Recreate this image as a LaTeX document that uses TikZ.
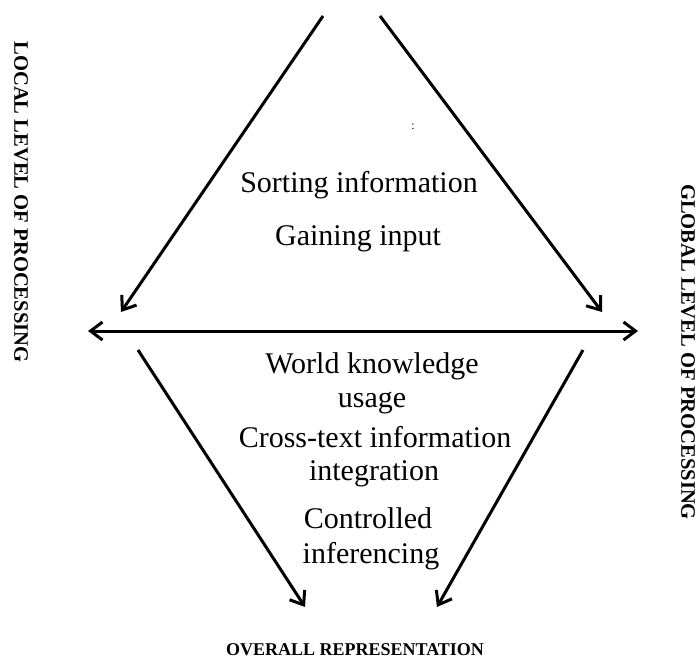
\documentclass[tikz,border=0pt]{standalone}
\usepackage{fontspec}
\setmainfont{Liberation Serif}
\usetikzlibrary{arrows.meta}
\begin{document}
\begin{tikzpicture}[x=1pt,y=-1pt,
  tip/.tip={Straight Barb[length=12pt,width=18pt]},
  flow/.style={line width=3pt,-tip},
  twoway/.style={line width=3pt,tip-tip},
  item/.style={inner sep=0pt,anchor=base,font=\fontsize{30}{36}\selectfont},
  sidelabel/.style={inner sep=0pt,rotate=-90,font=\fontsize{20.6}{24}\selectfont\bfseries},
  bottomlabel/.style={inner sep=0pt,anchor=base,font=\fontsize{18}{22}\selectfont\bfseries}]
\useasboundingbox (0,0) rectangle (699,661);

% end points of the connectors
\coordinate (topL) at (323,16);
\coordinate (topR) at (380,16);
\coordinate (midL) at (121,312);
\coordinate (midR) at (602,312);
\coordinate (axisL) at (88,331);
\coordinate (axisR) at (638,331);
\coordinate (lowL) at (138,350);
\coordinate (lowR) at (583,350);
\coordinate (endL) at (305,607);
\coordinate (endR) at (437,607);

% connectors
\draw[flow] (topL) -- (midL);
\draw[flow] (topR) -- (midR);
\draw[twoway] (axisL) -- (axisR);
\draw[flow] (lowL) -- (endL);
\draw[flow] (lowR) -- (endR);

% upper processes
\node[inner sep=0pt,font=\fontsize{12}{14}\selectfont] (colon) at (413,127) {:};
\node[item] (sorting) at (359,192) {Sorting information};
\node[item] (gaining) at (358,245) {Gaining input};

% lower processes
\node[item] (world1) at (372,373) {World knowledge};
\node[item] (world2) at (372,407) {usage};
\node[item] (cross1) at (375,447) {Cross-text information};
\node[item] (cross2) at (374,480) {integration};
\node[item] (ctrl1) at (368,528) {Controlled};
\node[item] (ctrl2) at (371,563) {inferencing};

% side and bottom labels
\node[sidelabel] (local) at (21,202) {LOCAL LEVEL OF PROCESSING};
\node[sidelabel] (global) at (688,352) {GLOBAL LEVEL OF PROCESSING};
\node[bottomlabel] (overall) at (355,655) {OVERALL REPRESENTATION};
\end{tikzpicture}
\end{document}
